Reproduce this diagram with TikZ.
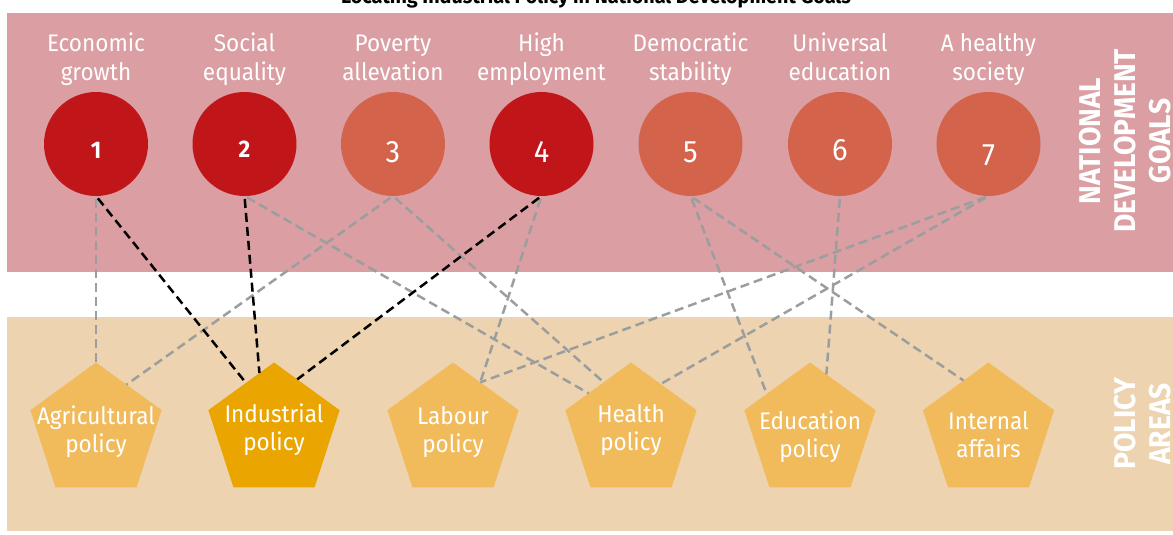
\documentclass[tikz,border=0pt]{standalone}
\usepackage{fontspec}
\setmainfont{Fira Sans}[FakeStretch=0.94]
\usetikzlibrary{shapes.geometric}

\definecolor{bandpink}{HTML}{DA9EA3}
\definecolor{bandtan}{HTML}{EDD3AF}
\definecolor{goaldark}{HTML}{C0161A}
\definecolor{goallight}{HTML}{D4634C}
\definecolor{areadark}{HTML}{EBA500}
\definecolor{arealight}{HTML}{F1BB5C}
\definecolor{linegray}{HTML}{9B9E9E}

\begin{document}
\begin{tikzpicture}[x=1pt, y=-1pt]

    \tikzset{goalstyle/.style={shape=circle,fill=goallight,minimum size=104pt,inner sep=0pt,outer sep=0pt}}
    \tikzset{areastyle/.style={regular polygon,regular polygon sides=5,fill=arealight,minimum size=138pt,inner sep=0pt,outer sep=0pt}}
    \tikzset{textstyle/.style={text=white,align=center,font=\fontsize{24}{29}\selectfont}}
    \tikzset{areatext/.style={text=white,align=center,font=\fontsize{24}{28.5}\selectfont}}
    \tikzset{numstyle/.style={text=white,inner sep=0pt,font=\fontsize{31}{36}\selectfont}}
    \tikzset{sidestyle/.style={text=white,align=center,rotate=90,font=\bfseries\fontsize{30}{35}\selectfont}}
    \tikzset{linkstyle/.style={draw=linegray,line width=2.5pt,dash pattern=on 9pt off 5pt,shorten <=3pt}}

    \useasboundingbox (0,0) rectangle (1173,535);
    \fill[bandpink] (7,13) rectangle (1173,271.7);
    \fill[bandtan] (7,316.7) rectangle (1173,530.7);

    \node[font=\bfseries\fontsize{21}{25}\selectfont,anchor=base] (title) at (596,4) {Locating Industrial Policy in National Development Goals};

    \node[goalstyle,fill=goaldark] (g1) at (  96, 144) {};
    \node[goalstyle,fill=goaldark] (g2) at (244.5, 144) {};
    \node[goalstyle] (g3) at ( 393, 144) {};
    \node[goalstyle,fill=goaldark] (g4) at (541.5, 144) {};
    \node[goalstyle] (g5) at (690.5, 144) {};
    \node[goalstyle] (g6) at ( 840, 144) {};
    \node[goalstyle] (g7) at (988.5, 144) {};

    \node[numstyle,font=\bfseries\fontsize{24}{28}\selectfont] (n1) at (  96, 150.5) {1};
    \node[numstyle,font=\bfseries\fontsize{24}{28}\selectfont] (n2) at (244.5, 149) {2};
    \node[numstyle] (n3) at ( 393, 152.5) {3};
    \node[numstyle] (n4) at (541.5, 152) {4};
    \node[numstyle] (n5) at (690.5, 152.8) {5};
    \node[numstyle] (n6) at ( 840, 150.3) {6};
    \node[numstyle] (n7) at (988.5, 155) {7};

    \node[textstyle] (l1) at (  96, 60.7) {\strut Economic\\growth\strut};
    \node[textstyle] (l2) at (244.5, 60.7) {\strut Social\\equality\strut};
    \node[textstyle] (l3) at ( 393, 60.7) {\strut Poverty\\allevation\strut};
    \node[textstyle] (l4) at (541.5, 60.7) {\strut High\\employment\strut};
    \node[textstyle] (l5) at (690.5, 60.7) {\strut Democratic\\stability\strut};
    \node[textstyle] (l6) at ( 840, 60.7) {\strut Universal\\education\strut};
    \node[textstyle] (l7) at (988.5, 60.7) {\strut A healthy\\society\strut};

    \node[areastyle] (agri) at (  96, 431.5) {};
    \node[areastyle,fill=areadark] (ind) at ( 274, 431.5) {};
    \node[areastyle] (lab) at ( 453, 431.5) {};
    \node[areastyle] (hea) at ( 631, 431.5) {};
    \node[areastyle] (edu) at ( 810, 431.5) {};
    \node[areastyle] (inta) at (988.5, 431.5) {};

    \node[areatext] (tagri) at (  96, 432.9) {\strut Agricultural\\policy\strut};
    \node[areatext] (tind) at ( 274, 430.9) {\strut Industrial\\policy\strut};
    \node[areatext] (tlab) at ( 453, 432.6) {\strut Labour\\policy\strut};
    \node[areatext] (thea) at ( 631, 430.9) {\strut Health\\policy\strut};
    \node[areatext] (tedu) at ( 810, 437.9) {\strut Education\\policy\strut};
    \node[areatext] (tinta) at (988.5, 437.9) {\strut Internal\\affairs\strut};

    \node[sidestyle] (sgoals) at (1128, 141) {\strut NATIONAL\\DEVELOPMENT\\GOALS\strut};
    \node[sidestyle] (sareas) at (1146, 424) {\strut POLICY\\AREAS\strut};

    % gray links
    \draw[linkstyle] (g1.south) -- (agri.corner 1);
    \draw[linkstyle] (g2.south) -- (hea.138);
    \draw[linkstyle] (g3.south) -- (agri.57);
    \draw[linkstyle] (g3.south) -- (hea.119);
    \draw[linkstyle] (g4.south) -- (lab.61);
    \draw[linkstyle] (g5.south) -- (edu.139);
    \draw[linkstyle] (g5.south) -- (inta.116);
    \draw[linkstyle] (g6.south) -- (edu.74);
    \draw[linkstyle] (g7.south) -- (lab.61);
    \draw[linkstyle] (g7.south) -- (hea.58);

    % industrial policy
    \draw[linkstyle,draw=black] (g1.south) -- (ind.120);
    \draw[linkstyle,draw=black] (g2.south) -- (ind.104);
    \draw[linkstyle,draw=black] (g4.south) -- (ind.66);

\end{tikzpicture}
\end{document}
